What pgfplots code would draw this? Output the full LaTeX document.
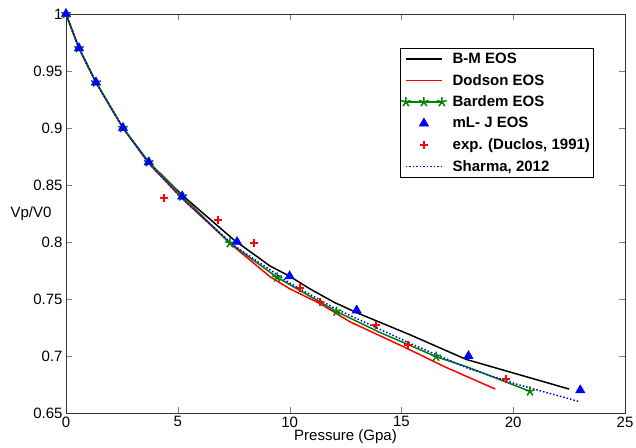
\documentclass[border=0pt]{standalone}
\usepackage{fontspec}
\setmainfont{Liberation Sans}
\usepackage{pgfplots}
\pgfplotsset{compat=1.18}
\definecolor{mgreen}{RGB}{0,128,0}
\begin{document}
\begin{tikzpicture}
\begin{axis}[
    width=559pt, height=399pt, scale only axis,
    xmin=0, xmax=25, ymin=0.65, ymax=1,
    xtick={0,5,10,15,20,25},
    ytick={0.65,0.7,0.75,0.8,0.85,0.9,0.95,1},
    /pgf/number format/assume math mode=true,
    yticklabel style={/pgf/number format/fixed,/pgf/number format/precision=2},
    tick label style={font=\fontsize{15}{17}\selectfont},
    label style={font=\fontsize{15}{17}\selectfont},
    major tick length=6pt,
    tick align=inside,
    axis line style={black!80},
    xlabel={Pressure (Gpa)},
    ylabel={Vp/V0},
    ylabel style={rotate=-90, at={(axis description cs:0,0.5)}, anchor=east, xshift=-11pt},
    xlabel style={yshift=4pt},
    legend style={at={(0.943,0.915)}, anchor=north east, draw=black,
        font=\bfseries\fontsize{15}{17}\selectfont, row sep=5.2pt,
        inner xsep=1pt, inner ysep=3pt,
        /tikz/every odd column/.append style={column sep=4pt}},
    legend cell align=left,
    legend image code/.code={\draw[mark repeat=2,mark phase=2,#1] plot coordinates {(0pt,0pt) (18pt,0pt) (36pt,0pt)};},
]
% B-M EOS
\addplot[black, line width=1.5pt] coordinates {
(0,1) (0.58,0.97) (1.34,0.94) (2.55,0.9) (3.7,0.87) (5.2,0.841) (7.5,0.802)
(9.12,0.779) (10,0.770) (10.9,0.759) (12,0.747) (13,0.738) (15.4,0.7185) (17.9,0.697) (20.2,0.684) (22.5,0.671)};
\addlegendentry{B-M EOS}
% Dodson EOS
\addplot[red, line width=1.5pt] coordinates {
(0,1) (0.58,0.97) (1.34,0.94) (2.55,0.9) (3.7,0.869) (5.2,0.838) (7.5,0.796)
(9.12,0.7696) (10,0.759) (11.36,0.746) (12.7,0.730) (15,0.709) (17,0.690) (19.2,0.671)};
\addlegendentry{Dodson EOS}
% Bardem EOS
\addplot[mgreen, line width=1.5pt, mark=star, mark size=5pt,
    mark indices={1,2,3,4,5,6,7,8,9,11,13}] coordinates {
(0,1) (0.58,0.97) (1.34,0.94) (2.55,0.9) (3.7,0.87) (5.2,0.84) (7.33,0.799)
(9.44,0.769) (12.1,0.739) (14,0.721) (16.55,0.6994) (18,0.690) (20.75,0.669)};
\addlegendentry{Bardem EOS}
% mL-J EOS
\addplot[only marks, blue, mark=triangle*, mark size=5.5pt] coordinates {
(0,1) (0.58,0.97) (1.34,0.94) (2.55,0.9) (3.7,0.87) (5.2,0.84) (7.65,0.80)
(10,0.77) (13,0.74) (18,0.70) (23,0.67)};
\addlegendentry{mL- J EOS}
% experiment
\addplot[only marks, red, mark=+, mark size=4pt, line width=2pt] coordinates {
(4.38,0.839) (6.8,0.819) (8.4,0.799) (10.47,0.760) (11.36,0.747) (13.86,0.727)
(15.3,0.7096) (19.7,0.68)};
\addlegendentry{exp. (Duclos, 1991)}
% Sharma
\addplot[blue, dotted, line width=1.5pt] coordinates {
(0,1) (0.58,0.97) (1.34,0.94) (2.55,0.9) (3.7,0.869) (5.2,0.838) (7.5,0.797)
(10,0.764) (12,0.742) (15.4,0.711) (18,0.689) (20.2,0.675) (22.95,0.66)};
\addlegendentry{Sharma, 2012}
\end{axis}
\pgfresetboundingbox
\path[use as bounding box] ([shift={(-66pt,-34pt)}]current axis.south west)
    rectangle ([shift={(11pt,14pt)}]current axis.north east);
\end{tikzpicture}
\end{document}
